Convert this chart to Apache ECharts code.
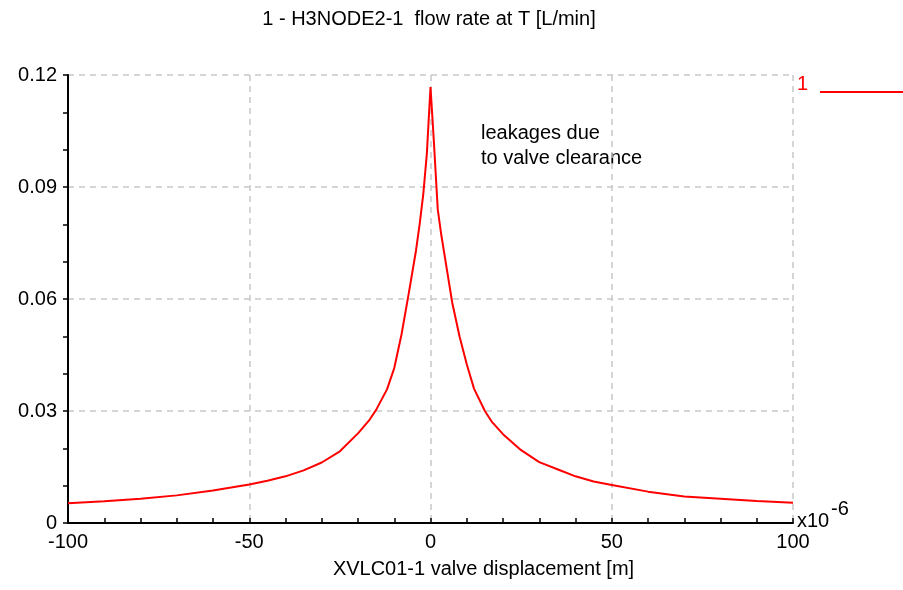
<!DOCTYPE html>
<html>
<head>
<meta charset="utf-8">
<script src="https://cdn.jsdelivr.net/npm/echarts@6/dist/echarts.min.js"></script>
<style>
  html, body { margin: 0; padding: 0; background: #fff; }
  #chart { width: 903px; height: 590px; }
</style>
</head>
<body>
<div id="chart"></div>
<script>
// valve displacement (x10^-6 m)
const displacement = [-100, -90, -80, -70, -60, -50, -45, -40, -35, -30, -25, -20, -17, -15, -12, -10, -8, -6, -4, -3, -2, -1, -0.5, 0,
  0.5, 1, 2, 3, 4, 6, 8, 10, 12, 15, 17, 20, 25, 30, 35, 40, 45, 50, 60, 70, 80, 90, 100]
// flow rate at T [L/min]
const flowRate = [0.0053, 0.0058, 0.0065, 0.0074, 0.0087, 0.0103, 0.0113, 0.0125, 0.0141, 0.0162, 0.0192, 0.0240, 0.0274, 0.0303, 0.0358, 0.0415, 0.0505, 0.0615, 0.0730, 0.0800, 0.0880, 0.0990, 0.1080, 0.1168,
  0.1090, 0.1010, 0.0840, 0.0770, 0.0710, 0.0590, 0.0500, 0.0425, 0.0360, 0.0300, 0.0270, 0.0238, 0.0195, 0.0163, 0.0144, 0.0125, 0.0111, 0.0102, 0.0084, 0.0071, 0.0065, 0.0059, 0.0054]

const titleText = '1 - H3NODE2-1  flow rate at T [L/min]'
const xName = 'XVLC01-1 valve displacement [m]'
const seriesName = '1'
const note = 'leakages due\nto valve clearance'

const font = 'Liberation Sans, Arial, sans-serif'
const red = '#ff0000'

let myChart = echarts.init(document.getElementById('chart'))
let option = {
  backgroundColor: '#fff',
  animation: false,
  title: {
    text: titleText,
    left: 424,
    top: 4,
    textAlign: 'center',
    textStyle: { fontFamily: font, fontSize: 20, fontWeight: 'normal', color: '#000' }
  },
  grid: { left: 68, right: 110, top: 75, bottom: 67 },
  xAxis: {
    type: 'value',
    min: -100,
    max: 100,
    interval: 50,
    name: xName,
    nameLocation: 'middle',
    nameGap: 36,
    // name sits right of the axis centre in the original
    nameTextStyle: { fontFamily: font, fontSize: 20, color: '#000', padding: [0, 0, 0, 106] },
    axisLine: { show: true, onZero: false, lineStyle: { color: '#000', width: 2 } },
    axisTick: { show: true, inside: true, length: 5, lineStyle: { color: '#000', width: 1.5 } },
    minorTick: { show: true, splitNumber: 5, length: 5, lineStyle: { color: '#000', width: 1.5 } },
    axisLabel: { margin: 9, fontFamily: font, fontSize: 20, color: '#000' },
    splitLine: { show: true, lineStyle: { color: '#c8c8c8', type: [6, 5], width: 1.5 } }
  },
  yAxis: {
    type: 'value',
    min: 0,
    max: 0.12,
    interval: 0.03,
    axisLine: { show: true, onZero: false, lineStyle: { color: '#000', width: 2 } },
    axisTick: { show: true, inside: false, length: 5, lineStyle: { color: '#000', width: 1.5 } },
    minorTick: { show: true, splitNumber: 3, length: 5, lineStyle: { color: '#000', width: 1.5 } },
    axisLabel: { margin: 11, fontFamily: font, fontSize: 20, color: '#000' },
    splitLine: { show: true, lineStyle: { color: '#c8c8c8', type: [6, 5], width: 1.5 } }
  },
  series: [
    {
      name: seriesName,
      type: 'line',
      data: displacement.map((x, i) => [x, flowRate[i]]),
      showSymbol: false,
      lineStyle: { color: red, width: 2 },
      itemStyle: { color: red }
    }
  ],
  graphic: [
    // note text
    {
      type: 'text',
      left: 481,
      top: 121,
      style: { text: note, font: '20px ' + font, fill: '#000', lineHeight: 25 }
    },
    // x10^-6
    {
      type: 'text',
      left: 797,
      top: 511,
      style: { text: 'x10', font: '20px ' + font, fill: '#000' }
    },
    {
      type: 'text',
      left: 831,
      top: 499,
      style: { text: '-6', font: '20px ' + font, fill: '#000' }
    },
    // legend entry
    {
      type: 'text',
      left: 797,
      top: 74,
      style: { text: seriesName, font: '20px ' + font, fill: red }
    },
    {
      type: 'line',
      shape: { x1: 820, y1: 92, x2: 903, y2: 92 },
      style: { stroke: red, lineWidth: 2 }
    }
  ]
}
myChart.setOption(option)
</script>
</body>
</html>
